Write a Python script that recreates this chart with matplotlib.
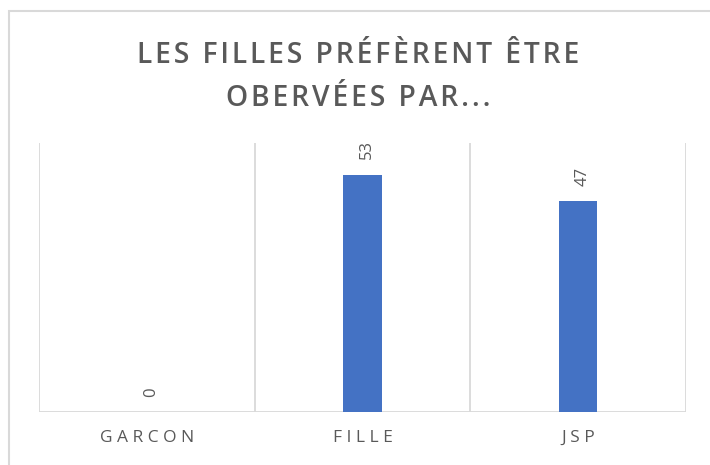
import matplotlib
matplotlib.use('Agg')
import matplotlib.pyplot as plt
from matplotlib.patches import Rectangle

categories = ['GARCON', 'FILLE', 'JSP']
values = [0, 53, 47]
title_lines = ['LES FILLES PRÉFÈRENT ÊTRE', 'OBERVÉES PAR...']

bar_color = '#4472C4'
grid_color = '#D9D9D9'
text_color = '#595959'

plt.rcParams['font.family'] = ['Open Sans', 'DejaVu Sans']


def spaced(s, sep='\u200a'):
    return sep.join(s)


fig = plt.figure(figsize=(7.1, 4.65), dpi=100)
ax = fig.add_axes([0.055, 0.114, 0.911, 0.578])

x = list(range(len(categories)))
ax.bar(x, values, width=0.18, color=bar_color, zorder=3)

ax.set_xlim(-0.5, len(categories) - 0.5)
ax.set_ylim(0, 60)

# separators between categories
for b in [i - 0.5 for i in range(len(categories) + 1)]:
    ax.axvline(b, color=grid_color, lw=1.3, zorder=1)
ax.axhline(0, color=grid_color, lw=1.3, zorder=2)

for s in ax.spines.values():
    s.set_visible(False)
ax.set_yticks([])
ax.set_xticks(x)
ax.set_xticklabels([spaced(c, ' ') for c in categories], color=text_color, fontsize=12.5)
ax.tick_params(axis='x', length=0, pad=13)

for xi, v in zip(x, values):
    ax.annotate(str(v), (xi, v), xytext=(3, 11), textcoords='offset points',
                rotation=90, ha='center', va='bottom', color=text_color, fontsize=12)

fig.text(0.505, 0.881, spaced(title_lines[0]), ha='center', va='center',
         fontsize=20.3, fontweight='semibold', color=text_color)
fig.text(0.505, 0.789, spaced(title_lines[1]), ha='center', va='center',
         fontsize=20.3, fontweight='semibold', color=text_color)

# chart frame
fig.add_artist(Rectangle((0.012, -0.1), 1.1, 1.077, transform=fig.transFigure,
                         fill=False, edgecolor=grid_color, lw=1.5))

fig.savefig('out.png', dpi=100)
